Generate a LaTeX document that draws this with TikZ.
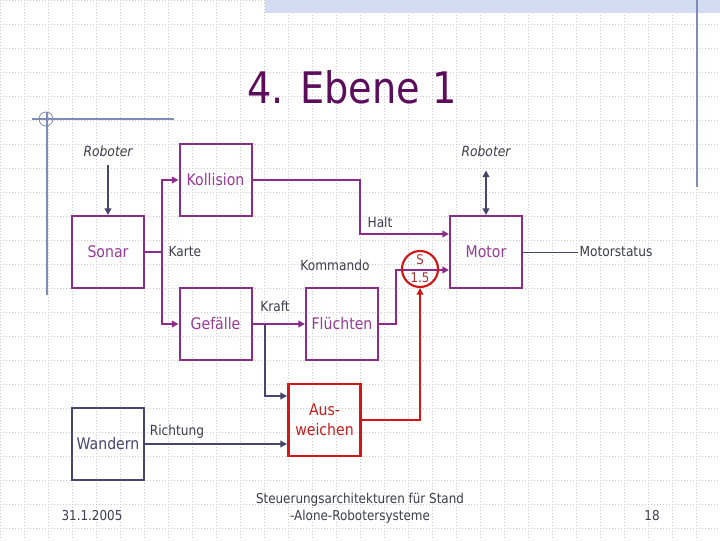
\documentclass[tikz,border=0pt]{standalone}
\usepackage{fontspec}
\setmainfont[FakeStretch=0.88]{DejaVu Sans}
\usetikzlibrary{arrows.meta, calc}
\definecolor{c1}{HTML}{8B2C8B}
\definecolor{c2}{HTML}{45456E}
\definecolor{c3}{HTML}{D41515}
\definecolor{boxtext}{HTML}{973A97}
\definecolor{hottext}{HTML}{C41E1E}
\definecolor{gatetext}{HTML}{A83232}
\definecolor{titlecolor}{HTML}{5C0D5C}
\definecolor{labelcolor}{HTML}{3C3C4C}
\definecolor{rulecolor}{HTML}{7E8CBA}
\definecolor{gridcolor}{HTML}{C8C8C8}
\definecolor{stripcolor}{HTML}{D3DCF0}

\begin{document}
\begin{tikzpicture}[
    x=0.75pt, y=-0.75pt,
    >={Triangle[length=5pt, width=5pt]},
    every node/.style={font=\fontsize{10.4}{12}\selectfont},
    lab/.style={text=labelcolor, inner sep=1pt},
    ext/.style={text=labelcolor, font=\fontsize{10.5}{12}\selectfont\itshape},
    foot/.style={text=labelcolor, font=\fontsize{10.2}{12.75}\selectfont},
    unit/.style={draw=c1, line width=1.5pt, text=boxtext, minimum width=54pt,
        minimum height=54pt, inner sep=0pt, font=\fontsize{12}{15}\selectfont},
    flow/.style={c1, line width=1.5pt, ->},
    wire/.style={c2, line width=1.5pt, ->},
    hot/.style={c3, line width=2.2pt, ->},
    gridline/.style={gridcolor, line width=0.6pt, dash pattern=on 0.75pt off 1.5pt},
]
\useasboundingbox (0,0) rectangle (720,540);
\fill[white] (0,0) rectangle (720,540);

% the slide background
\foreach \gx in {0,24,...,720}{
    \draw[gridline] (\gx,0) -- (\gx,540);
}
\foreach \gy in {0,24,...,540}{
    \draw[gridline] (0,\gy) -- (720,\gy);
}
\fill[stripcolor] (265,0) rectangle (720,12.5);
\draw[rulecolor, line width=1pt] (697,0) -- (697,187);
\draw[rulecolor, line width=0.8pt] (32,119) -- (174,119);
\draw[rulecolor, line width=0.8pt] (47,112) -- (47,295);
\draw[rulecolor, line width=0.6pt] (46,119) circle (5.25pt);

\node[text=titlecolor, font=\fontsize{32.6}{36}\selectfont] (title) at (352,87) {4. Ebene 1};

% the behaviour boxes
\node[unit] (sonar) at (108,252) {Sonar};
\node[unit] (kollision) at (215.5,180) {Kollision};
\node[unit] (gefaelle) at (215.5,324) {Gefälle};
\node[unit] (fluechten) at (342,324) {Flüchten};
\node[unit] (motor) at (486,252) {Motor};
\node[unit, draw=c3, line width=2.2pt, text=hottext, align=center] (ausweichen) at (324.5,420) {Aus-\\weichen};
\node[unit, draw=c2, line width=0.8pt, text=c2] (wandern) at (108,444) {Wandern};

\node[ext] (rob1) at (108,151) {Roboter};
\node[ext] (rob2) at (486,151) {Roboter};

\node[lab, anchor=west] (karte) at (167,252) {Karte};
\node[lab] (halt) at (380,222) {Halt};
\node[lab] (kommando) at (335,265) {Kommando};
\node[lab] (kraft) at (275,306) {Kraft};
\node[lab] (richtung) at (177,432) {Richtung};
\node[lab, anchor=west] (status) at (578,252) {Motorstatus};

\coordinate (split) at (162,252);
\coordinate (haltbend) at (360,234);
\coordinate (kombend) at (396,270);
\coordinate (kraftsplit) at (265,324);

% the wiring
\draw[wire, shorten <=3pt] (rob1) -- (sonar);
\draw[wire, <->, shorten <=7pt] (rob2) -- (motor);
\draw[c1, line width=1.5pt] (sonar.east) -- (split);
\draw[flow] (split) |- (kollision.west);
\draw[flow] (split) |- (gefaelle.west);
\draw[flow] (kollision.east) -| (haltbend) -- (haltbend -| motor.west);
\draw[flow] (gefaelle.east) -- (fluechten.west);
\draw[flow] (fluechten.east) -| (kombend) -- (kombend -| motor.west);
\draw[wire] (kraftsplit) |- ($(ausweichen.west)+(0,-24)$);
\draw[wire] (wandern.east) -- (wandern.east -| ausweichen.west);
\draw[c2, line width=0.75pt] (motor.east) -- (status.west);

% the suppressor
\node[circle, draw=c3, line width=1.6pt, minimum size=27pt, inner sep=0pt,
    text=gatetext, align=center, font=\fontsize{10}{13.5}\selectfont] (gate) at (420,269) {S\\1.5};
\draw[hot] (ausweichen.east) -| (gate.south);

\node[foot] (date) at (92,516) {31.1.2005};
\node[foot, align=center] (topic) at (360,508) {Steuerungsarchitekturen für Stand\\-Alone-Robotersysteme};
\node[foot] (page) at (652,516) {18};
\end{tikzpicture}
\end{document}
